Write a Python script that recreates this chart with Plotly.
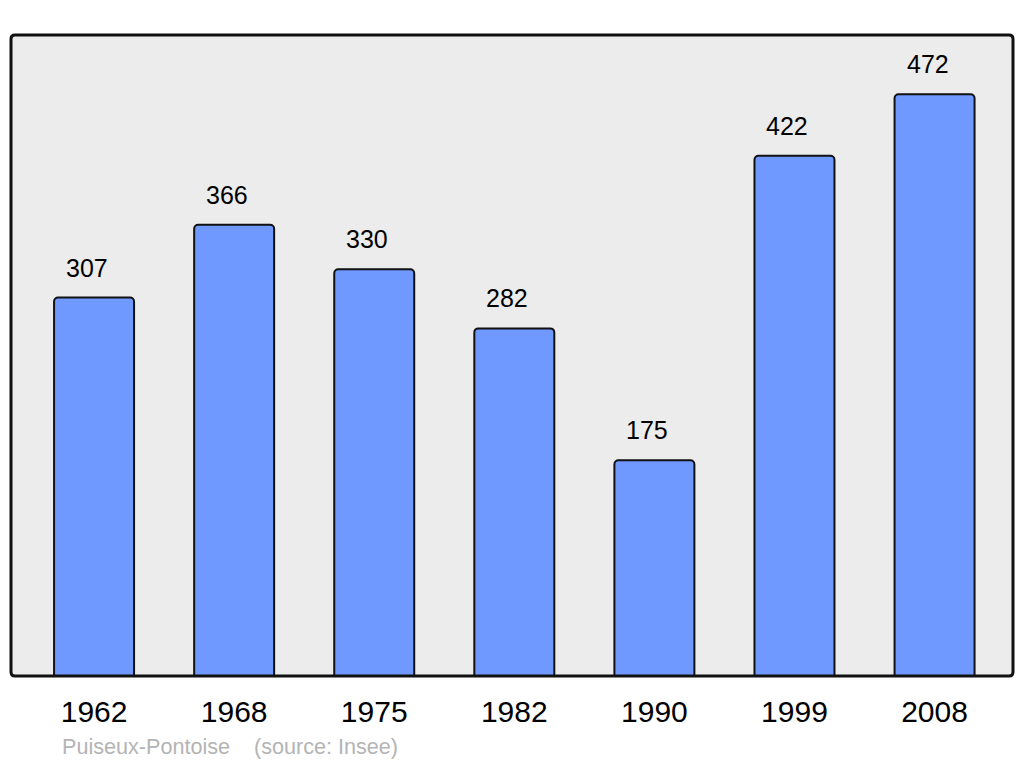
import plotly.graph_objects as go

years = ["1962", "1968", "1975", "1982", "1990", "1999", "2008"]
population = [307, 366, 330, 282, 175, 422, 472]
place_name = "Puiseux-Pontoise"
source_text = "(source: Insee)"

xpos = list(range(len(years)))

fig = go.Figure()
fig.add_trace(go.Bar(
    x=xpos, y=population, width=0.571,
    marker=dict(color="#7099ff", line=dict(color="#111111", width=2)),
    hoverinfo="skip",
))

for xi, v in zip(xpos, population):
    fig.add_annotation(x=xi, y=v, text=str(v), showarrow=False,
                       yanchor="bottom", yshift=14, xshift=-7,
                       font=dict(family="Liberation Sans, Arial", size=25, color="#000000"))

note_font = dict(family="Liberation Sans, Arial", size=21.6, color="#b4b4b4")
fig.add_annotation(xref="paper", yref="paper", x=49/1002, y=-0.087, xanchor="left", yanchor="top",
                   text=place_name, showarrow=False, font=note_font)
fig.add_annotation(xref="paper", yref="paper", x=241/1002, y=-0.087, xanchor="left", yanchor="top",
                   text=source_text, showarrow=False, font=note_font)

W, H = 1002.0, 641.0
rx, ry = 4 / W, 4 / H
path = (f"M {rx},0 L {1-rx},0 Q 1,0 1,{ry} L 1,{1-ry} Q 1,1 {1-rx},1 "
        f"L {rx},1 Q 0,1 0,{1-ry} L 0,{ry} Q 0,0 {rx},0 Z")
fig.add_shape(type="path", xref="paper", yref="paper", path=path,
              line=dict(color="#111111", width=3), layer="above")

fig.update_layout(
    width=1024, height=765,
    margin=dict(l=11, r=11, t=35, b=89),
    paper_bgcolor="#ffffff", plot_bgcolor="#ececec",
    barcornerradius=4,
    showlegend=False,
    xaxis=dict(range=[-0.593, 6.56], tickvals=xpos, ticktext=years, showgrid=False,
               zeroline=False, showline=False, ticks="", ticklabelstandoff=15,
               tickfont=dict(family="Liberation Sans, Arial", size=30, color="#000000")),
    yaxis=dict(range=[0, 520], showgrid=False, zeroline=False, showticklabels=False,
               showline=False, ticks=""),
)

# remove the default page margin so the 1024x765 figure fills the window exactly
fig.write_html("out.html",
               config={"displayModeBar": False, "staticPlot": True},
               post_script="document.body.style.margin='0';document.body.style.overflow='hidden';")
